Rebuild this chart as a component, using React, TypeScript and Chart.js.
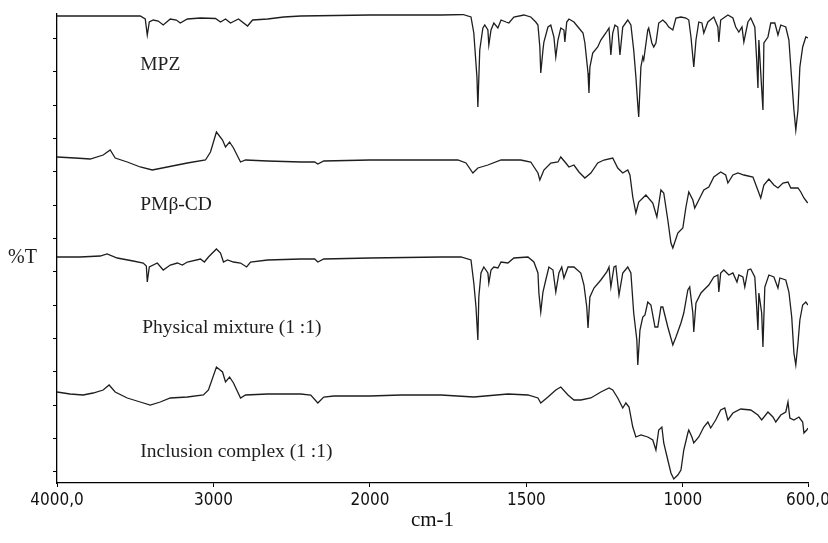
import React, { useEffect, useRef } from 'react';
import { Chart, registerables, LinearScale } from 'chart.js';

// ---------------- data ----------------
const xTickValues = [4000, 3000, 2000, 1500, 1000, 600];
const xTickLabels = ['4000,0', '3000', '2000', '1500', '1000', '600,0'];
const yTickValues = [11.3, 44.6, 78, 111.3, 144.6, 178, 211.3, 244.6, 278, 311.3, 344.6, 378, 411.3, 444.6];

const spectrumNames = ['MPZ', 'PMβ-CD', 'Physical mixture (1 :1)', 'Inclusion complex (1 :1)'];
const labelWavenumbers = [3468, 3468, 3455, 3468];
const labelLevels = [418, 278, 155, 31];

const mpzWavenumbers = [
  4000, 3724, 3468, 3436, 3423, 3410, 3385, 3353, 3321, 3276,
  3237, 3212, 3167, 3083, 2987, 2955, 2923, 2891, 2840, 2782,
  2750, 2654, 2551, 2442, 2000, 1773, 1703, 1677, 1668, 1658,
  1655, 1649, 1639, 1633, 1623, 1620, 1613, 1604, 1591, 1581,
  1565, 1556, 1540, 1508, 1486, 1470, 1463, 1457, 1454, 1447,
  1444, 1431, 1422, 1412, 1406, 1399, 1390, 1380, 1377, 1371,
  1364, 1348, 1335, 1319, 1313, 1303, 1300, 1297, 1288, 1272,
  1262, 1246, 1236, 1230, 1224, 1217, 1208, 1201, 1192, 1176,
  1166, 1157, 1150, 1144, 1141, 1134, 1128, 1125, 1112, 1109,
  1099, 1093, 1086, 1077, 1064, 1054, 1045, 1032, 1022, 1006,
  990, 981, 974, 965, 958, 949, 939, 933, 920, 901,
  888, 885, 879, 856, 840, 831, 821, 811, 805, 792,
  783, 770, 764, 760, 757, 751, 744, 741, 728, 719,
  706, 696, 687, 671, 661, 655, 645, 639, 632, 626,
  617, 607, 600,
];
const mpzValues = [
  467, 467, 467, 464, 448, 461, 463, 462, 458, 464,
  463, 460, 464, 465, 464.5, 461, 464, 460, 464, 457,
  463, 464, 466, 467, 468, 468, 468.5, 466, 450, 406,
  376, 433, 455, 458, 453, 438, 453, 460, 455, 463,
  461, 460, 466, 468, 466, 461, 458, 436, 410, 433,
  441, 456, 458, 446, 426, 443, 455, 453, 441, 461,
  464, 461, 456, 450, 440, 410, 390, 416, 430, 436,
  443, 450, 455, 428, 450, 458, 456, 428, 456, 463,
  458, 433, 406, 378, 366, 416, 426, 423, 453, 455,
  440, 436, 440, 460, 463, 460, 456, 453, 465, 466,
  465, 463, 446, 416, 443, 461, 460, 450, 461, 466,
  456, 441, 463, 468, 465, 456, 451, 456, 441, 461,
  465, 456, 423, 395, 443, 410, 373, 440, 446, 460,
  460, 448, 458, 456, 443, 416, 373, 353, 373, 416,
  436, 446, 445,
];

const pmcdWavenumbers = [
  4000, 3885, 3788, 3705, 3660, 3628, 3551, 3468, 3391, 3295,
  3167, 3051, 3019, 2981, 2942, 2923, 2897, 2872, 2827, 2795,
  2654, 2442, 2353, 2333, 2295, 2000, 1773, 1719, 1693, 1671,
  1655, 1623, 1581, 1518, 1486, 1463, 1457, 1444, 1422, 1399,
  1390, 1374, 1364, 1348, 1332, 1313, 1294, 1272, 1252, 1224,
  1208, 1192, 1176, 1169, 1160, 1150, 1141, 1118, 1096, 1083,
  1070, 1061, 1048, 1038, 1032, 1016, 1000, 990, 981, 968,
  962, 949, 933, 917, 901, 879, 863, 856, 840, 824,
  805, 776, 764, 751, 741, 725, 709, 696, 680, 664,
  655, 632, 623, 613, 601,
];
const pmcdValues = [
  326, 325, 324, 328, 333, 325, 321, 316, 313, 316,
  320, 323, 331, 351, 343, 336, 341, 335, 321, 323,
  322, 321, 321, 319, 322, 323, 323, 323, 320, 310,
  315, 318, 323, 323, 321, 310, 303, 313, 320, 321,
  326, 320, 316, 318, 311, 305, 310, 320, 323, 325,
  315, 310, 313, 308, 286, 270, 281, 288, 280, 266,
  293, 290, 263, 240, 235, 250, 255, 276, 291, 283,
  275, 283, 293, 296, 306, 311, 308, 300, 308, 310,
  308, 306, 296, 285, 298, 304, 298, 295, 300, 301,
  295, 295, 291, 285, 280,
];

const mixWavenumbers = [
  4000, 3853, 3724, 3680, 3615, 3513, 3449, 3429, 3423, 3410,
  3359, 3321, 3276, 3231, 3199, 3167, 3083, 3058, 3032, 2981,
  2955, 2936, 2910, 2872, 2827, 2788, 2763, 2654, 2442, 2353,
  2333, 2295, 2000, 1773, 1709, 1677, 1668, 1661, 1655, 1652,
  1645, 1636, 1623, 1620, 1613, 1604, 1591, 1581, 1559, 1540,
  1495, 1476, 1463, 1460, 1454, 1447, 1438, 1428, 1415, 1406,
  1396, 1387, 1380, 1367, 1348, 1326, 1316, 1307, 1303, 1297,
  1284, 1262, 1243, 1236, 1230, 1220, 1214, 1204, 1192, 1176,
  1166, 1157, 1147, 1144, 1137, 1128, 1121, 1112, 1102, 1089,
  1080, 1070, 1064, 1048, 1032, 1022, 1006, 997, 984, 978,
  968, 965, 958, 942, 933, 917, 901, 888, 885, 879,
  869, 853, 840, 827, 821, 808, 802, 792, 783, 770,
  764, 760, 757, 748, 744, 738, 725, 709, 696, 690,
  671, 661, 652, 645, 639, 632, 626, 617, 607, 600,
];
const mixValues = [
  226, 226, 227, 229, 225, 222, 220, 217, 201, 216,
  220, 213, 218, 220, 218, 221, 224, 221, 226, 234,
  230, 221, 223, 221, 220, 216, 221, 223, 224, 224,
  221, 224, 225, 226, 226, 223, 200, 176, 143, 186,
  210, 216, 210, 200, 213, 216, 215, 221, 220, 225,
  226, 221, 210, 190, 171, 191, 203, 216, 213, 191,
  210, 216, 205, 216, 216, 210, 198, 176, 155, 186,
  195, 203, 211, 216, 196, 216, 217, 188, 210, 216,
  210, 170, 143, 118, 153, 166, 168, 181, 178, 156,
  156, 176, 176, 156, 138, 146, 160, 170, 193, 196,
  170, 151, 180, 190, 193, 198, 206, 208, 191, 210,
  213, 208, 210, 201, 208, 206, 196, 213, 214, 206,
  176, 153, 190, 170, 136, 196, 208, 206, 195, 205,
  203, 191, 166, 130, 118, 140, 163, 178, 181, 178,
];

const complexWavenumbers = [
  4000, 3917, 3833, 3769, 3705, 3667, 3628, 3551, 3468, 3404,
  3340, 3276, 3167, 3064, 3032, 2981, 2942, 2923, 2897, 2872,
  2827, 2795, 2654, 2442, 2378, 2333, 2295, 2231, 2000, 1901,
  1773, 1668, 1559, 1495, 1463, 1454, 1431, 1406, 1390, 1367,
  1348, 1326, 1294, 1262, 1236, 1224, 1208, 1192, 1182, 1172,
  1160, 1150, 1134, 1112, 1096, 1086, 1077, 1067, 1061, 1048,
  1038, 1029, 1016, 1006, 997, 984, 981, 971, 965, 949,
  933, 920, 911, 895, 879, 866, 856, 840, 815, 783,
  760, 748, 728, 712, 703, 687, 671, 664, 658, 645,
  629, 617, 613, 604, 600,
];
const complexValues = [
  91, 89, 88, 90, 93, 98, 91, 85, 81, 78,
  81, 85, 86, 88, 93, 116, 111, 101, 106, 100,
  85, 88, 89, 89, 88, 80, 86, 87, 87, 88,
  88, 86, 89, 88, 85, 80, 86, 93, 96, 88,
  83, 83, 85, 91, 95, 93, 85, 75, 80, 76,
  56, 46, 48, 46, 43, 33, 53, 56, 40, 23,
  10, 4, 8, 13, 33, 50, 53, 46, 40, 46,
  56, 61, 55, 63, 73, 75, 63, 70, 74, 73,
  68, 63, 71, 66, 61, 68, 71, 81, 65, 63,
  66, 61, 50, 53, 55,
];

// --------------- scale with the instrument's 2x expansion below 2000 cm-1 ---------------
function axisPos(w: number) {
  return w >= 2000 ? w : 2 * w - 2000;
}
function axisInv(u: number) {
  return u >= 2000 ? u : (u + 2000) / 2;
}

class SpectrumScale extends LinearScale {
  static id = 'spectrum';
  static defaults = {};
  getPixelForValue(value: number) {
    const a = axisPos(this.min);
    const b = axisPos(this.max);
    return this.getPixelForDecimal((axisPos(value) - a) / (b - a));
  }
  getValueForPixel(pixel: number) {
    const a = axisPos(this.min);
    const b = axisPos(this.max);
    return axisInv(a + this.getDecimalForPixel(pixel) * (b - a));
  }
}

Chart.register(...registerables, SpectrumScale);

const toPoints = (xs: number[], ys: number[]) => xs.map((x, i) => ({ x, y: ys[i] }));

const spectraLabels = {
  id: 'spectraLabels',
  afterDraw(chart: any) {
    const { ctx, scales } = chart;
    ctx.save();
    ctx.fillStyle = '#1e1e1e';
    ctx.textBaseline = 'middle';
    ctx.textAlign = 'left';
    ctx.font = '19.5px "Liberation Serif", "Times New Roman", serif';
    spectrumNames.forEach((name, i) => {
      ctx.fillText(name, scales.x.getPixelForValue(labelWavenumbers[i]), scales.y.getPixelForValue(labelLevels[i]));
    });
    ctx.font = '20px "Liberation Serif", "Times New Roman", serif';
    ctx.fillText('%T', 8, 258);
    ctx.restore();
  },
};

export default function App() {
  const canvasRef = useRef<HTMLCanvasElement | null>(null);

  useEffect(() => {
    const canvas = canvasRef.current;
    if (!canvas) return;
    const lineStyle = {
      borderColor: '#1e1e1e',
      borderWidth: 1.3,
      pointRadius: 0,
      tension: 0,
      fill: false,
    };
    const chart = new Chart(canvas, {
      type: 'line',
      data: {
        datasets: [
          { label: spectrumNames[0], data: toPoints(mpzWavenumbers, mpzValues), ...lineStyle },
          { label: spectrumNames[1], data: toPoints(pmcdWavenumbers, pmcdValues), ...lineStyle },
          { label: spectrumNames[2], data: toPoints(mixWavenumbers, mixValues), ...lineStyle },
          { label: spectrumNames[3], data: toPoints(complexWavenumbers, complexValues), ...lineStyle },
        ],
      },
      options: {
        animation: false,
        responsive: false,
        devicePixelRatio: 1,
        layout: { padding: { left: 0, right: 20, top: 14, bottom: 0 } },
        plugins: { legend: { display: false }, tooltip: { enabled: false } },
        scales: {
          x: {
            type: 'spectrum' as any,
            reverse: true,
            min: 600,
            max: 4000,
            afterBuildTicks: (s: any) => {
              s.ticks = xTickValues.map((v) => ({ value: v }));
            },
            afterFit: (s: any) => {
              s.height = 60;
              s.paddingLeft = 0;
              s.paddingRight = 0;
            },
            ticks: {
              autoSkip: false,
              maxRotation: 0,
              padding: 3,
              color: '#111',
              font: { family: '"Liberation Sans Narrow", "DejaVu Sans Condensed", "DejaVu Sans", sans-serif', size: 17 },
              callback: (value: any) => xTickLabels[xTickValues.indexOf(Number(value))],
            },
            grid: { drawOnChartArea: false, drawTicks: true, tickLength: 4, color: '#000', lineWidth: 1 },
            border: { display: true, color: '#000', width: 1.3 },
            title: {
              display: true,
              text: 'cm-1',
              color: '#111',
              font: { family: '"Liberation Serif", "Times New Roman", serif', size: 21 },
              padding: { top: 2, bottom: 10 },
            },
          } as any,
          y: {
            type: 'linear',
            min: 0,
            max: 469,
            afterBuildTicks: (s: any) => {
              s.ticks = yTickValues.map((v) => ({ value: v }));
            },
            afterFit: (s: any) => {
              s.width = 57;
              s.paddingTop = 0;
              s.paddingBottom = 0;
            },
            ticks: { display: false },
            grid: { drawOnChartArea: false, drawTicks: true, tickLength: 4, color: '#000', lineWidth: 1 },
            border: { display: true, color: '#000', width: 1.3 },
          },
        },
      },
      plugins: [spectraLabels],
    });
    return () => chart.destroy();
  }, []);

  return (
    <div style={{ position: 'absolute', left: 0, top: 0, width: 828, height: 543, background: '#fff' }}>
      <canvas ref={canvasRef} width={828} height={543} style={{ display: 'block' }} />
    </div>
  );
}
